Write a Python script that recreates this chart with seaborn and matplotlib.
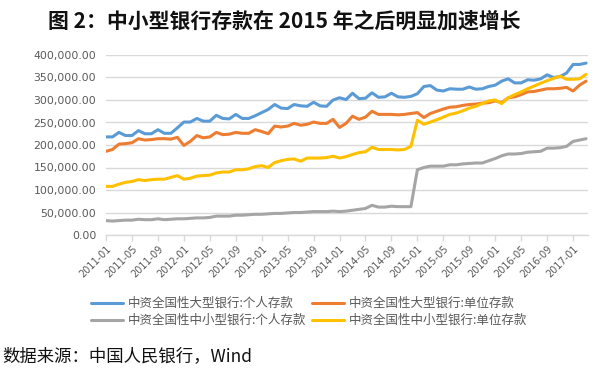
import matplotlib
matplotlib.use("Agg")
import matplotlib.pyplot as plt
import seaborn as sns
import pandas as pd
import numpy as np
from matplotlib.ticker import FuncFormatter, FixedLocator
from matplotlib.lines import Line2D

# ---------------- data (values in thousands) ----------------
months = [f"{y}-{m:02d}" for y in range(2011, 2018) for m in range(1, 13)][:75]

large_personal = [218, 218, 228, 221, 221, 232, 225, 225, 234, 226, 226, 238,
                  251, 251, 259, 253, 253, 266, 259, 258, 268, 259, 259, 265,
                  272, 279, 290, 282, 281, 290, 287, 286, 295, 287, 286, 300,
                  305, 301, 315, 303, 304, 316, 306, 307, 315, 307, 306, 308,
                  314, 330, 332, 322, 320, 325, 324, 324, 329, 324, 325, 330,
                  333, 342, 347, 338, 338, 345, 344, 347, 356, 350, 352, 360,
                  379, 379, 382]

large_unit = [186, 190, 202, 203, 205, 214, 211, 212, 214, 214, 213, 217,
              199, 208, 221, 216, 218, 228, 223, 224, 228, 226, 226, 234,
              230, 225, 242, 240, 242, 248, 244, 246, 251, 248, 248, 257,
              239, 248, 264, 257, 262, 275, 268, 268, 268, 267, 268, 270,
              272, 261, 270, 275, 280, 284, 285, 288, 290, 291, 293, 294,
              298, 294, 305, 307, 312, 318, 319, 322, 325, 325, 326, 328,
              320, 333, 342]

small_personal = [32, 31, 32, 33, 33, 35, 34, 34, 36, 34, 35, 36,
                  36, 37, 38, 38, 39, 42, 42, 42, 44, 44, 45, 46,
                  46, 47, 48, 48, 49, 50, 50, 51, 52, 52, 52, 53,
                  52, 53, 55, 57, 59, 66, 62, 62, 64, 63, 63, 63,
                  145, 150, 153, 153, 153, 156, 156, 158, 159, 160, 160, 165,
                  170, 176, 180, 180, 181, 184, 185, 186, 193, 193, 194, 197,
                  208, 211, 214]

small_unit = [108, 108, 113, 117, 119, 123, 121, 123, 124, 124, 128, 132,
              124, 126, 131, 132, 133, 138, 140, 140, 145, 145, 147, 152,
              154, 150, 161, 165, 168, 169, 164, 171, 171, 171, 172, 175,
              171, 174, 179, 183, 185, 195, 190, 190, 190, 189, 190, 197,
              255, 246, 251, 256, 262, 268, 271, 276, 282, 286, 292, 298,
              300, 292, 305, 312, 318, 325, 331, 337, 343, 348, 353, 346,
              346, 347, 357]

series_names = ["中资全国性大型银行:个人存款", "中资全国性大型银行:单位存款",
                "中资全国性中小型银行:个人存款", "中资全国性中小型银行:单位存款"]
series_values = [large_personal, large_unit, small_personal, small_unit]
colors = ["#5B9BD5", "#ED7D31", "#A5A5A5", "#FFC000"]

title = "图 2：中小型银行存款在 2015 年之后明显加速增长"
source = "数据来源：中国人民银行，Wind"

# ---------------- build long-form frame ----------------
frames = []
for name, vals in zip(series_names, series_values):
    frames.append(pd.DataFrame({"idx": np.arange(len(months)),
                                "month": months,
                                "value": np.array(vals, dtype=float) * 1000,
                                "series": name}))
df = pd.concat(frames, ignore_index=True)

sns.set_theme(style="white")
plt.rcParams["font.family"] = ["Noto Sans CJK SC", "DejaVu Sans"]

fig = plt.figure(figsize=(6, 3.69), dpi=100)
ax = fig.add_axes([106 / 600, 1 - 235 / 369, (588 - 106) / 600, (235 - 55) / 369])

sns.lineplot(data=df, x="idx", y="value", hue="series", hue_order=series_names,
             palette=colors, linewidth=2.2, ax=ax, legend=False)

ax.set_xlim(0, 74.3)
ax.set_ylim(0, 400000)
ax.set_xlabel("")
ax.set_ylabel("")

ax.yaxis.set_major_locator(FixedLocator(np.arange(0, 400001, 50000)))
ax.yaxis.set_major_formatter(FuncFormatter(lambda v, p: f"{v:,.2f}"))
ax.yaxis.grid(True, color="#d9d9d9", linewidth=1.0)
ax.set_axisbelow(True)

tick_pos = list(range(0, 73, 4))
ax.set_xticks(tick_pos)
ax.set_xticklabels([months[i] for i in tick_pos], rotation=45, ha="right",
                   rotation_mode="anchor", family=["DejaVu Sans"])

for s in ["left", "top", "right"]:
    ax.spines[s].set_visible(False)
ax.spines["bottom"].set_color("#d9d9d9")
ax.spines["bottom"].set_linewidth(1.0)

ax.tick_params(axis="y", length=0, pad=7, labelsize=7.8, labelcolor="#595959")
ax.tick_params(axis="x", length=4, width=1, color="#d9d9d9", pad=2,
               labelsize=7.0, labelcolor="#595959", bottom=True)
for lab in ax.get_yticklabels():
    lab.set_family(["DejaVu Sans"])

fig.text(48 / 600, 1 - 21 / 369, title, fontsize=15, fontweight="bold",
         va="center", ha="left", color="#111111")

handles = [Line2D([0], [0], color=c, lw=2.2) for c in colors]
order = [0, 2, 1, 3]
leg = fig.legend([handles[i] for i in order], [series_names[i] for i in order],
                 ncol=2, loc="center", bbox_to_anchor=(309 / 600, 1 - 312 / 369),
                 frameon=False, fontsize=9, handlelength=2.6, handletextpad=0.4,
                 columnspacing=0.4, labelspacing=0.3, borderpad=0)
for t in leg.get_texts():
    t.set_color("#595959")

fig.text(2 / 600, 1 - 356 / 369, source, fontsize=12.5, va="center", ha="left",
         color="#111111")

fig.savefig("out.png", dpi=100)
